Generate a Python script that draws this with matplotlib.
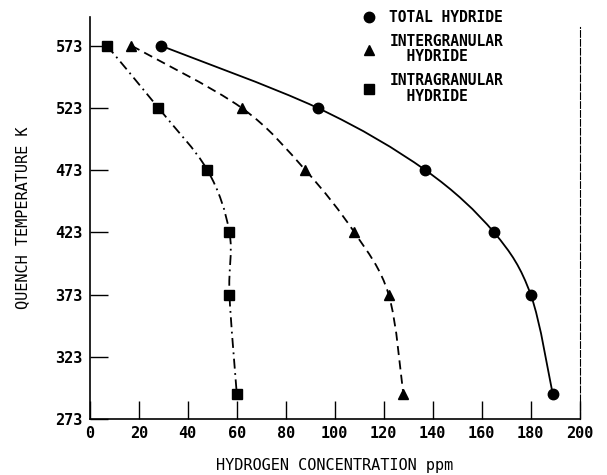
import matplotlib.pyplot as plt
from matplotlib.path import Path
from matplotlib.patches import PathPatch
from matplotlib.lines import Line2D
import numpy as np

plt.rcParams['font.family'] = ['DejaVu Sans Mono']
plt.rcParams['font.weight'] = 'bold'

temps = [573, 523, 473, 423, 373, 293]
total_hydride = [29, 93, 137, 165, 180, 189]
intergranular = [17, 62, 88, 108, 122, 128]
intragranular = [7, 28, 48, 57, 57, 60]

x_ticks = [0, 20, 40, 60, 80, 100, 120, 140, 160, 180, 200]
y_ticks = [273, 323, 373, 423, 473, 523, 573]


def smooth_path(xs, ys):
    # Catmull-Rom curve through the points, built as cubic bezier segments
    pts = np.column_stack([xs, ys]).astype(float)
    verts = [pts[0]]
    codes = [Path.MOVETO]
    n = len(pts)
    for i in range(n - 1):
        p0 = pts[max(i - 1, 0)]
        p1 = pts[i]
        p2 = pts[i + 1]
        p3 = pts[min(i + 2, n - 1)]
        c1 = p1 + (p2 - p0) / 6.0
        c2 = p2 - (p3 - p1) / 6.0
        verts += [c1, c2, p2]
        codes += [Path.CURVE4] * 3
    return Path(verts, codes)


fig = plt.figure(figsize=(6.07, 4.75), dpi=100)
ax = fig.add_axes([0.148, 0.118, 0.807, 0.846])

series = [
    (total_hydride, 'o', '-', 'TOTAL HYDRIDE'),
    (intergranular, '^', (0, (5, 3)), 'INTERGRANULAR\n  HYDRIDE'),
    (intragranular, 's', (0, (5.5, 2.5, 1, 2.5)), 'INTRAGRANULAR\n  HYDRIDE'),
]
handles = []
for vals, marker, ls, label in series:
    patch = PathPatch(smooth_path(vals, temps), facecolor='none',
                      edgecolor='black', linewidth=1.3, linestyle=ls)
    ax.add_patch(patch)
    ax.plot(vals, temps, linestyle='none', marker=marker, color='black',
            markersize=7.5)
    handles.append(Line2D([], [], linestyle='none', marker=marker,
                          color='black', markersize=7.5))

leg = ax.legend(handles, [s[3] for s in series], loc='upper left',
                bbox_to_anchor=(0.54, 1.032), frameon=False, fontsize=10.5,
                handletextpad=0.8, handlelength=1.2, labelspacing=0.6,
                borderaxespad=0)
for t in leg.get_texts():
    t.set_linespacing(1.05)

ax.set_xlim(0, 200)
ax.set_ylim(273, 596)
ax.set_xticks(x_ticks)
ax.set_yticks(y_ticks)
ax.tick_params(direction='in', length=13, width=1.0, labelsize=11, pad=5)
ax.spines['top'].set_visible(False)
ax.spines['right'].set_linestyle((0, (6, 2)))
ax.spines['right'].set_linewidth(0.8)
ax.spines['right'].set_bounds(273, 588)
ax.spines['left'].set_linewidth(1.2)
ax.spines['bottom'].set_linewidth(1.2)

ax.set_xlabel('HYDROGEN CONCENTRATION ppm', fontsize=11, labelpad=12)
ax.set_ylabel('QUENCH TEMPERATURE K', fontsize=11, labelpad=18)

fig.savefig('out.png', dpi=100)
